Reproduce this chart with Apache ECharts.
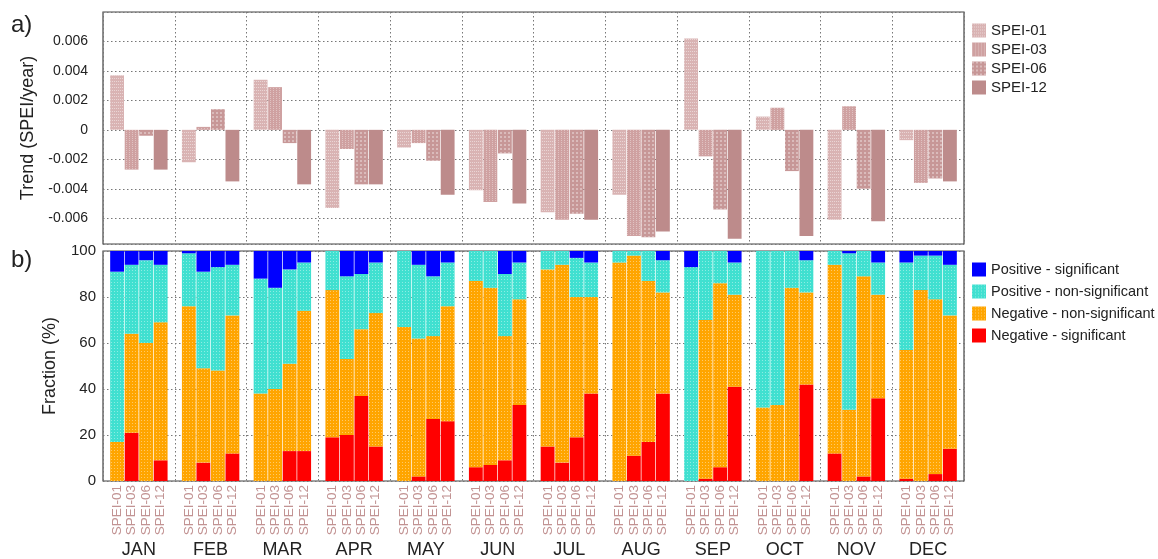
<!DOCTYPE html>
<html><head><meta charset="utf-8">
<script src="https://cdn.jsdelivr.net/npm/echarts@6/dist/echarts.min.js"></script>
<style>html,body{margin:0;padding:0;background:#fff}#c{width:1158px;height:559px}</style>
</head><body><div id="c"></div>
<script>
const months = ['JAN','FEB','MAR','APR','MAY','JUN','JUL','AUG','SEP','OCT','NOV','DEC'];
const speiNames = ['SPEI-01','SPEI-03','SPEI-06','SPEI-12'];
const classNames = ['Negative - significant','Negative - non-significant','Positive - non-significant','Positive - significant'];

// panel a) trends (SPEI/year)
const trend01 = [0.0037,-0.0022,0.0034,-0.0053,-0.0012,-0.0041,-0.0056,-0.0044,0.0062,0.0009,-0.0061,-0.0007];
const trend03 = [-0.0027,0.0002,0.0029,-0.0013,-0.0009,-0.0049,-0.0061,-0.0072,-0.0018,0.0015,0.0016,-0.0036];
const trend06 = [-0.0004,0.0014,-0.0009,-0.0037,-0.0021,-0.0016,-0.0057,-0.0073,-0.0054,-0.0028,-0.0040,-0.0033];
const trend12 = [-0.0027,-0.0035,-0.0037,-0.0037,-0.0044,-0.0050,-0.0061,-0.0069,-0.0074,-0.0072,-0.0062,-0.0035];

// panel b) fractions (%) rows: SPEI-01, -03, -06, -12 ; columns: months
const negSig = [
  [0,0,0,19,0,6,15,0,0,0,12,1],
  [21,8,0,20,2,7,8,11,1,0,0,0],
  [0,0,13,37,27,9,19,17,6,0,2,3],
  [9,12,13,15,26,33,38,38,41,42,36,14]
];
const negNon = [
  [17,76,38,64,67,81,77,95,0,32,82,56],
  [43,41,40,33,60,77,86,87,69,33,31,83],
  [60,48,38,29,36,54,61,70,80,84,87,76],
  [60,60,61,58,50,46,42,44,40,40,45,58]
];
const posNon = [
  [74,23,50,17,33,13,8,5,93,68,6,38],
  [30,42,44,36,32,16,6,2,30,67,68,15],
  [36,45,41,24,26,27,17,13,14,16,11,19],
  [25,22,21,22,19,16,15,14,14,14,14,22]
];
const posSig = [
  [9,1,12,0,0,0,0,0,7,0,0,5],
  [6,9,16,11,6,0,0,0,0,0,1,2],
  [4,7,8,10,11,10,3,0,0,0,0,2],
  [6,6,5,5,5,5,5,4,5,4,5,6]
];

const trends = [trend01, trend03, trend06, trend12];
const comps = [negSig, negNon, posNon, posSig];
const speiColors = ['#d9b3b3','#cfa1a1','#c79797','#bd8b8b'];
const speiDecals = [
  {symbol:'rect', symbolSize:1, color:'rgba(255,255,255,0.45)', dashArrayX:[1,1], dashArrayY:[1,2]},
  {symbol:'rect', symbolSize:1, color:'rgba(255,255,255,0.35)', dashArrayX:[1,2], dashArrayY:[1,1]},
  {symbol:'rect', symbolSize:1, color:'rgba(255,255,255,0.35)', dashArrayX:[2,2], dashArrayY:[2,2]},
  null
];
const classColors = ['#ff0000','#ffa500','#40e0d0','#0000ff'];
const classDecals = [
  null,
  {symbol:'rect', symbolSize:1, color:'rgba(255,255,255,0.4)', dashArrayX:[1,2], dashArrayY:[1,2]},
  {symbol:'rect', symbolSize:1, color:'rgba(255,255,255,0.4)', dashArrayX:[1,2], dashArrayY:[1,2]},
  null
];

const dotted = {color:'#777', width:1, type:[1.5,2.5]};
const FONT = '"Liberation Sans", Arial, Helvetica, sans-serif';

const series = [];
speiNames.forEach((n,i)=>{
  const st = {color: speiColors[i]};
  if (speiDecals[i]) st.decal = speiDecals[i];
  series.push({type:'bar', name:n, xAxisIndex:0, yAxisIndex:0, data:trends[i],
    barGap:'5%', barCategoryGap:'20%', itemStyle:st, emphasis:{disabled:true}});
});
for (let i=0;i<4;i++){
  for (let c=0;c<4;c++){
    const st = {color: classColors[c]};
    if (classDecals[c]) st.decal = classDecals[c];
    series.push({type:'bar', name:classNames[c], stack:'s'+i, xAxisIndex:1, yAxisIndex:1,
      data: comps[c][i], barGap:'5%', barCategoryGap:'20%', itemStyle:st, emphasis:{disabled:true}});
  }
}

const chart = echarts.init(document.getElementById('c'), null, {renderer:'canvas'});
chart.setOption({
  animation:false,
  textStyle:{fontFamily:FONT},
  grid:[
    {left:103, right:194, top:12, height:232, show:true, borderColor:'#444', borderWidth:1.2},
    {left:103, right:194, top:251, height:231, show:true, borderColor:'#444', borderWidth:1.2}
  ],
  graphic:[
    {type:'text', left:11, top:13, style:{text:'a)', font:'24px '+FONT, fill:'#222'}},
    {type:'text', left:11, top:248, style:{text:'b)', font:'24px '+FONT, fill:'#222'}}
  ],
  legend:[
    {data:speiNames, orient:'vertical', left:967, top:18, itemWidth:14, itemHeight:14, itemGap:4,
     icon:'rect', selectedMode:false, textStyle:{fontSize:15, color:'#222', fontFamily:FONT}},
    {data:classNames.slice().reverse(), orient:'vertical', left:967, top:257, itemWidth:14, itemHeight:14, itemGap:7,
     icon:'rect', selectedMode:false, textStyle:{fontSize:14.5, color:'#222', fontFamily:FONT}}
  ],
  xAxis:[
    {type:'category', gridIndex:0, position:'bottom', data:months, axisLine:{show:false, onZero:false}, axisTick:{show:false},
     axisLabel:{show:false}, splitLine:{show:true, interval:0, lineStyle:dotted}},
    {type:'category', gridIndex:1, position:'bottom', data:months, axisLine:{show:false, onZero:false}, axisTick:{show:false},
     axisLabel:{show:true, interval:0, fontSize:18, color:'#222', margin:60}, splitLine:{show:true, interval:0, lineStyle:dotted}},
    {type:'value', gridIndex:1, position:'bottom', offset:0, min:0, max:60, interval:1,
     axisLine:{show:false, onZero:false}, axisTick:{show:false}, splitLine:{show:false},
     axisLabel:{show:true, rotate:90, fontSize:13.5, color:'#c29393', margin:4,
       formatter:(v)=>{const r=Math.round(v)%5; return (r===0)?'':speiNames[r-1];}}}
  ],
  yAxis:[
    {type:'value', gridIndex:0, min:-0.00775, max:0.008, splitNumber:8,
     axisLine:{show:false}, axisTick:{show:false},
     axisLabel:{fontSize:14, color:'#222', margin:15,
       formatter:(v)=>{const k=v/0.002; if (Math.abs(k-Math.round(k))>1e-6 || v>0.0079) return ''; return Math.abs(v)<1e-9?'0':v.toFixed(3);}},
     splitLine:{show:true, lineStyle:dotted},
     name:'Trend (SPEI/year)', nameLocation:'middle', nameGap:53, nameTextStyle:{fontSize:18, color:'#222'}},
    {type:'value', gridIndex:1, min:0, max:100, interval:20,
     axisLine:{show:false}, axisTick:{show:false},
     axisLabel:{fontSize:15, color:'#222', margin:7},
     splitLine:{show:true, lineStyle:dotted},
     name:'Fraction (%)', nameLocation:'middle', nameGap:44, nameTextStyle:{fontSize:18, color:'#222'}}
  ],
  series:series
});
</script></body></html>
